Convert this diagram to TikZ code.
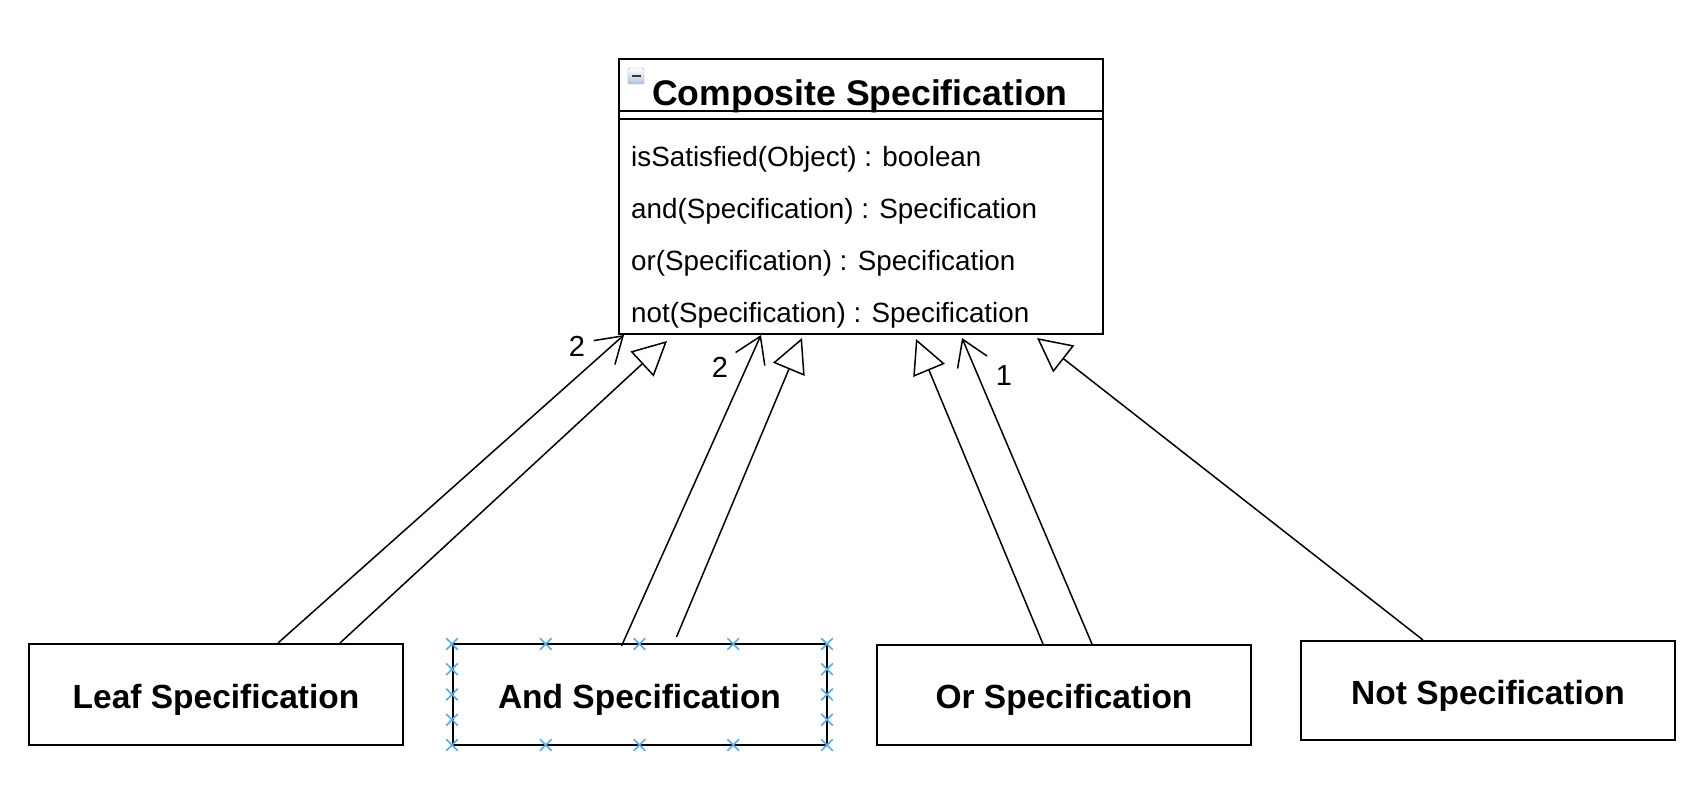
\documentclass[tikz,border=0pt]{standalone}
\usepackage{fontspec}
\setmainfont{Liberation Sans}
\usetikzlibrary{arrows.meta,shapes.misc}

\definecolor{handleblue}{RGB}{86,172,232}
\definecolor{iconfill}{RGB}{178,196,222}
\definecolor{iconline}{RGB}{140,158,182}

\tikzset{
  classbox/.style={draw, line width=2pt, minimum width=374pt, minimum height=101pt,
    inner sep=0pt, text height=27pt, text depth=0pt, font=\fontsize{33.5}{40}\selectfont\bfseries},
  inherit/.style={line width=1.5pt, -{Triangle[open, length=34pt, width=34pt, line width=1.5pt]}},
  assoc/.style={line width=1.5pt, -{Straight Barb[length=25pt, width=32pt, line width=1.5pt]}},
  multlabel/.style={font=\fontsize{29}{34}\selectfont},
  method/.style={anchor=base west, inner sep=0pt, font=\fontsize{27.8}{33}\selectfont},
  handle/.style={cross out, draw=handleblue, line width=1.6pt, minimum size=10pt, inner sep=0pt},
}

\begin{document}
\begin{tikzpicture}[x=1pt,y=-1pt]
  \useasboundingbox (0,0) rectangle (1708,800);

  % composite class with its methods
  \node[draw, line width=2pt, minimum width=484pt, minimum height=275pt, inner sep=0pt] (comp) at (861,196.5) {};
  \draw[line width=1.5pt] (619,111) -- (1103,111);
  \draw[line width=1.5pt] (619,119) -- (1103,119);
  \draw[iconline, top color=white, bottom color=iconfill, rounded corners=1.5pt] (628,68) rectangle (644,84);
  \draw[line width=2pt, black!80] (631.5,76) -- (640.5,76);
  \node[anchor=base west, inner sep=0pt, font=\fontsize{35.6}{42}\selectfont\bfseries] (title) at (652,105) {Composite Specification};
  \foreach \y/\txt in {166/{isSatisfied(Object) : boolean},
                       218/{and(Specification) : Specification},
                       270/{or(Specification) : Specification},
                       322/{not(Specification) : Specification}} {
    \node[method] at (631,\y) {\txt};
  }

  % concrete specifications
  \node[classbox] (leaf) at (216,694.5) {Leaf Specification};
  \node[classbox] (andspec) at (639.5,694.5) {And Specification};
  \node[classbox, minimum height=100pt] (orspec) at (1064,695) {Or Specification};
  \node[classbox, minimum height=99pt] (notspec) at (1488,690.5) {Not Specification};

  % selection handles round the And box
  \foreach \x in {452,545.75,639.5,733.25,827} {
    \node[handle] at (\x,644) {};
    \node[handle] at (\x,745) {};
  }
  \foreach \y in {669.25,694.5,719.75} {
    \node[handle] at (452,\y) {};
    \node[handle] at (827,\y) {};
  }

  % connectors
  \draw[assoc] ([xshift=250pt]leaf.north west) -- ([xshift=6pt]comp.south west);
  \draw[inherit] ([xshift=312pt]leaf.north west) -- ([xshift=49pt,yshift=-6pt]comp.south west);
  \draw[assoc] ([xshift=170pt,yshift=-3pt]andspec.north west) -- ([xshift=143pt]comp.south west);
  \draw[inherit] ([xshift=225pt,yshift=6pt]andspec.north west) -- ([xshift=184pt,yshift=-3pt]comp.south west);
  \draw[inherit] ([xshift=167pt]orspec.north west) -- ([xshift=298pt,yshift=-4pt]comp.south west);
  \draw[assoc] ([xshift=216pt]orspec.north west) -- ([xshift=344pt,yshift=-3pt]comp.south west);
  \draw[inherit] ([xshift=123pt]notspec.north west) -- ([xshift=419pt,yshift=-3pt]comp.south west);

  % multiplicities
  \node[multlabel] (m1) at (577,346) {2};
  \node[multlabel] (m2) at (720,367) {2};
  \node[multlabel] (m3) at (1004,376) {1};
\end{tikzpicture}
\end{document}
